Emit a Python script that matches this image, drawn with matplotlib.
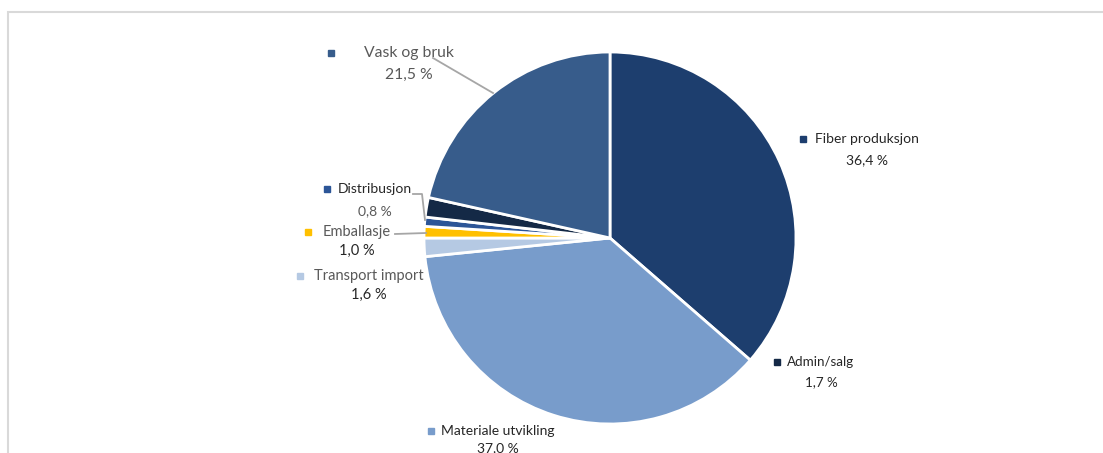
import numpy as np
import matplotlib.pyplot as plt
from matplotlib.patches import Rectangle

plt.rcParams['font.family'] = ['Lato', 'DejaVu Sans']

categories = ['Fiber produksjon', 'Materiale utvikling', 'Transport import',
              'Emballasje', 'Distribusjon', 'Admin/salg', 'Vask og bruk']
values = [36.4, 37.0, 1.6, 1.0, 0.8, 1.7, 21.5]
value_labels = ['36,4 %', '37,0 %', '1,6 %', '1,0 %', '0,8 %', '1,7 %', '21,5 %']
colors = ['#1d3e6e', '#789ccb', '#b5c9e3', '#ffc000', '#2c5597', '#142946', '#375c8b']

W, H = 1103, 453
fig = plt.figure(figsize=(W / 100, H / 100), dpi=100)
ax = fig.add_axes([0, 0, 1, 1])

# chart border
ax.add_patch(Rectangle((8, -20), W + 20, H - 12 + 20, fill=False,
                       edgecolor='#d9d9d9', linewidth=1.5))

cx, cy, r = 610, H - 238, 186
ax.pie(values, colors=colors, startangle=90, counterclock=False,
       center=(cx, cy), radius=r, frame=True,
       wedgeprops=dict(edgecolor='white', linewidth=2))
ax.set_xlim(0, W)
ax.set_ylim(0, H)
ax.set_aspect('equal')
ax.axis('off')

dark = '#262626'
gray = '#595959'
# (square x, name y, text center x, value y, size, name colour, value colour)
layout = {
    'Fiber produksjon': (803, 139, 867, 160, 10, dark, dark),
    'Admin/salg': (777, 362, 821, 382, 9.6, dark, dark),
    'Materiale utvikling': (431, 431, 498, 448, 10, dark, dark),
    'Transport import': (300, 276, 369, 295, 10.5, gray, dark),
    'Emballasje': (308, 232, 357, 251, 10.5, gray, dark),
    'Distribusjon': (327, 189, 375, 211, 10, dark, gray),
    'Vask og bruk': (331, 53, 409, 75, 11.3, gray, gray),
}

for name, val, col in zip(categories, value_labels, colors):
    sx, ny, tx, vy, fs, nc, vc = layout[name]
    ax.plot(sx, H - ny, marker='s', markersize=4.5, color=col, linestyle='none')
    ax.text(tx, H - ny, name, ha='center', va='center', fontsize=fs, color=nc)
    ax.text(tx, H - vy, val, ha='center', va='center', fontsize=fs, color=vc)

# leader lines
lc = '#a6a6a6'
ax.plot([433, 493], [H - 58, H - 93], color=lc, linewidth=1.3)
ax.plot([413, 422, 425], [H - 194, H - 194, H - 220], color=lc, linewidth=1.3)
ax.plot([395, 426], [H - 234, H - 233], color=lc, linewidth=1.3)

fig.savefig('out.png', dpi=100)
